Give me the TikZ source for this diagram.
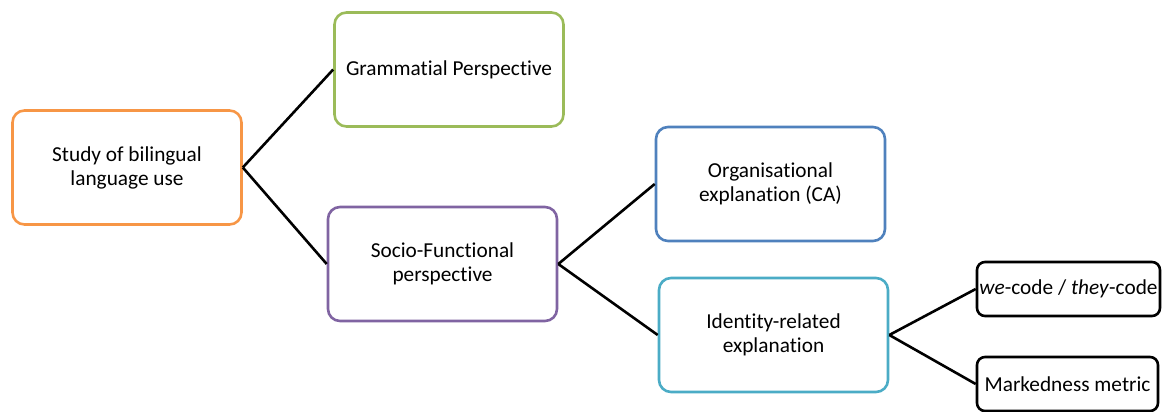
\documentclass[tikz,border=0pt]{standalone}
\usepackage{fontspec}
\setmainfont{Carlito}[Ligatures=NoCommon]
\definecolor{cOrange}{HTML}{F79646}
\definecolor{cGreen}{HTML}{9BBB59}
\definecolor{cPurple}{HTML}{8064A2}
\definecolor{cBlue}{HTML}{4F81BD}
\definecolor{cCyan}{HTML}{4BACC6}
\begin{document}
\begin{tikzpicture}[x=1pt,y=-1pt,
  bigbox/.style={draw, line width=2.6pt, rounded corners=12pt, fill=white, align=center,
    minimum width=229pt, minimum height=114pt, inner sep=0pt, font=\fontsize{21.3}{24}\selectfont},
  smallbox/.style={draw=black, line width=2.6pt, rounded corners=8pt, fill=white, align=center,
    inner sep=0pt, font=\fontsize{21.3}{24}\selectfont},
  conn/.style={line width=2.6pt, black}]
\useasboundingbox (0,0) rectangle (1164,412);
\node[bigbox, draw=cOrange] (study) at (127,167.5) {Study of bilingual\\language use};
\node[bigbox, draw=cGreen] (gram) at (449,69.5) {Grammatial Perspective};
\node[bigbox, draw=cPurple] (socio) at (442.5,264) {Socio-Functional\\perspective};
\node[bigbox, draw=cBlue] (org) at (770.5,184) {Organisational\\explanation (CA)};
\node[bigbox, draw=cCyan] (ident) at (773.5,335) {Identity-related\\explanation};
\node[smallbox, minimum width=183pt, minimum height=54pt] (we) at (1068.5,289) {\textit{we}-code / \textit{they}-code};
\node[smallbox, minimum width=181pt, minimum height=54pt] (mark) at (1067.5,384) {Markedness metric};
\draw[conn] (study.east) -- (gram.west);
\draw[conn] (study.east) -- (socio.west);
\draw[conn] (socio.east) -- (org.west);
\draw[conn] (socio.east) -- (ident.west);
\draw[conn] (ident.east) -- (we.west);
\draw[conn] (ident.east) -- (mark.west);
\end{tikzpicture}
\end{document}
